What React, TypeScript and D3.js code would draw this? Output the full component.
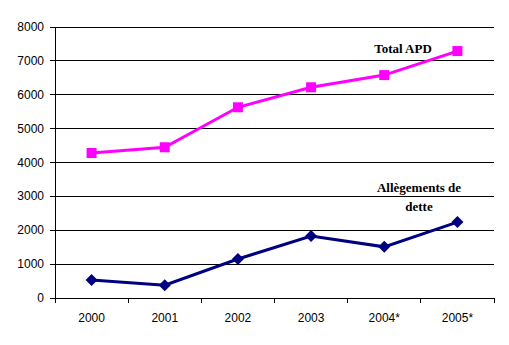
import React from "react";
import * as d3 from "d3";

const categories = ["2000", "2001", "2002", "2003", "2004*", "2005*"];
const totalAPD = [4280, 4450, 5630, 6220, 6580, 7290];
const allegements = [530, 380, 1150, 1830, 1510, 2240];
const yTicks = [0, 1000, 2000, 3000, 4000, 5000, 6000, 7000, 8000];

export default function App() {
  const W = 509, H = 345;
  const left = 55, right = 494, top = 27, bottom = 298;
  const x = d3.scaleBand<string>().domain(categories).range([left, right]);
  const y = d3.scaleLinear().domain([0, 8000]).range([bottom, top]);
  const cx = (c: string) => (x(c) as number) + x.bandwidth() / 2;
  const line = d3.line<number>().x((_, i) => cx(categories[i])).y((d) => y(d));
  const catTicks = [...categories.map((c) => x(c) as number), right];

  return (
    <svg width={W} height={H} style={{ position: "absolute", left: 0, top: 0 }}>
      <rect width={W} height={H} fill="#fff" />
      {yTicks.map((t) => (
        <g key={t}>
          <line x1={left} x2={right} y1={y(t)} y2={y(t)} stroke="#000" strokeWidth={1} shapeRendering="crispEdges" />
          <line x1={left - 5} x2={left} y1={y(t)} y2={y(t)} stroke="#000" strokeWidth={1} shapeRendering="crispEdges" />
          <text x={44} y={y(t) + 4} textAnchor="end" fontFamily="Liberation Sans, Arial" fontSize={12} fill="#000">{t}</text>
        </g>
      ))}
      <line x1={left} x2={left} y1={top} y2={bottom} stroke="#000" strokeWidth={1} shapeRendering="crispEdges" />
      {catTicks.map((t, i) => (
        <line key={i} x1={t} x2={t} y1={bottom} y2={bottom + 5} stroke="#000" strokeWidth={1} shapeRendering="crispEdges" />
      ))}
      {categories.map((c) => (
        <text key={c} x={cx(c)} y={322} textAnchor="middle" fontFamily="Liberation Sans, Arial" fontSize={12} fill="#000">{c}</text>
      ))}
      <path d={line(totalAPD) || ""} fill="none" stroke="#FF00FF" strokeWidth={3} />
      {totalAPD.map((v, i) => (
        <rect key={i} x={cx(categories[i]) - 5} y={y(v) - 5} width={10} height={10} fill="#FF00FF" />
      ))}
      <path d={line(allegements) || ""} fill="none" stroke="#000080" strokeWidth={3} />
      {allegements.map((v, i) => {
        const px = cx(categories[i]), py = y(v);
        return <path key={i} d={`M${px},${py - 6}L${px + 6},${py}L${px},${py + 6}L${px - 6},${py}Z`} fill="#000080" />;
      })}
      <text x={403} y={53} textAnchor="middle" fontFamily="Liberation Serif, Times New Roman" fontWeight="bold" fontSize={13} fill="#000">Total APD</text>
      <text x={419} y={192} textAnchor="middle" fontFamily="Liberation Serif, Times New Roman" fontWeight="bold" fontSize={13} fill="#000">Allègements de</text>
      <text x={419} y={211} textAnchor="middle" fontFamily="Liberation Serif, Times New Roman" fontWeight="bold" fontSize={13} fill="#000">dette</text>
    </svg>
  );
}
